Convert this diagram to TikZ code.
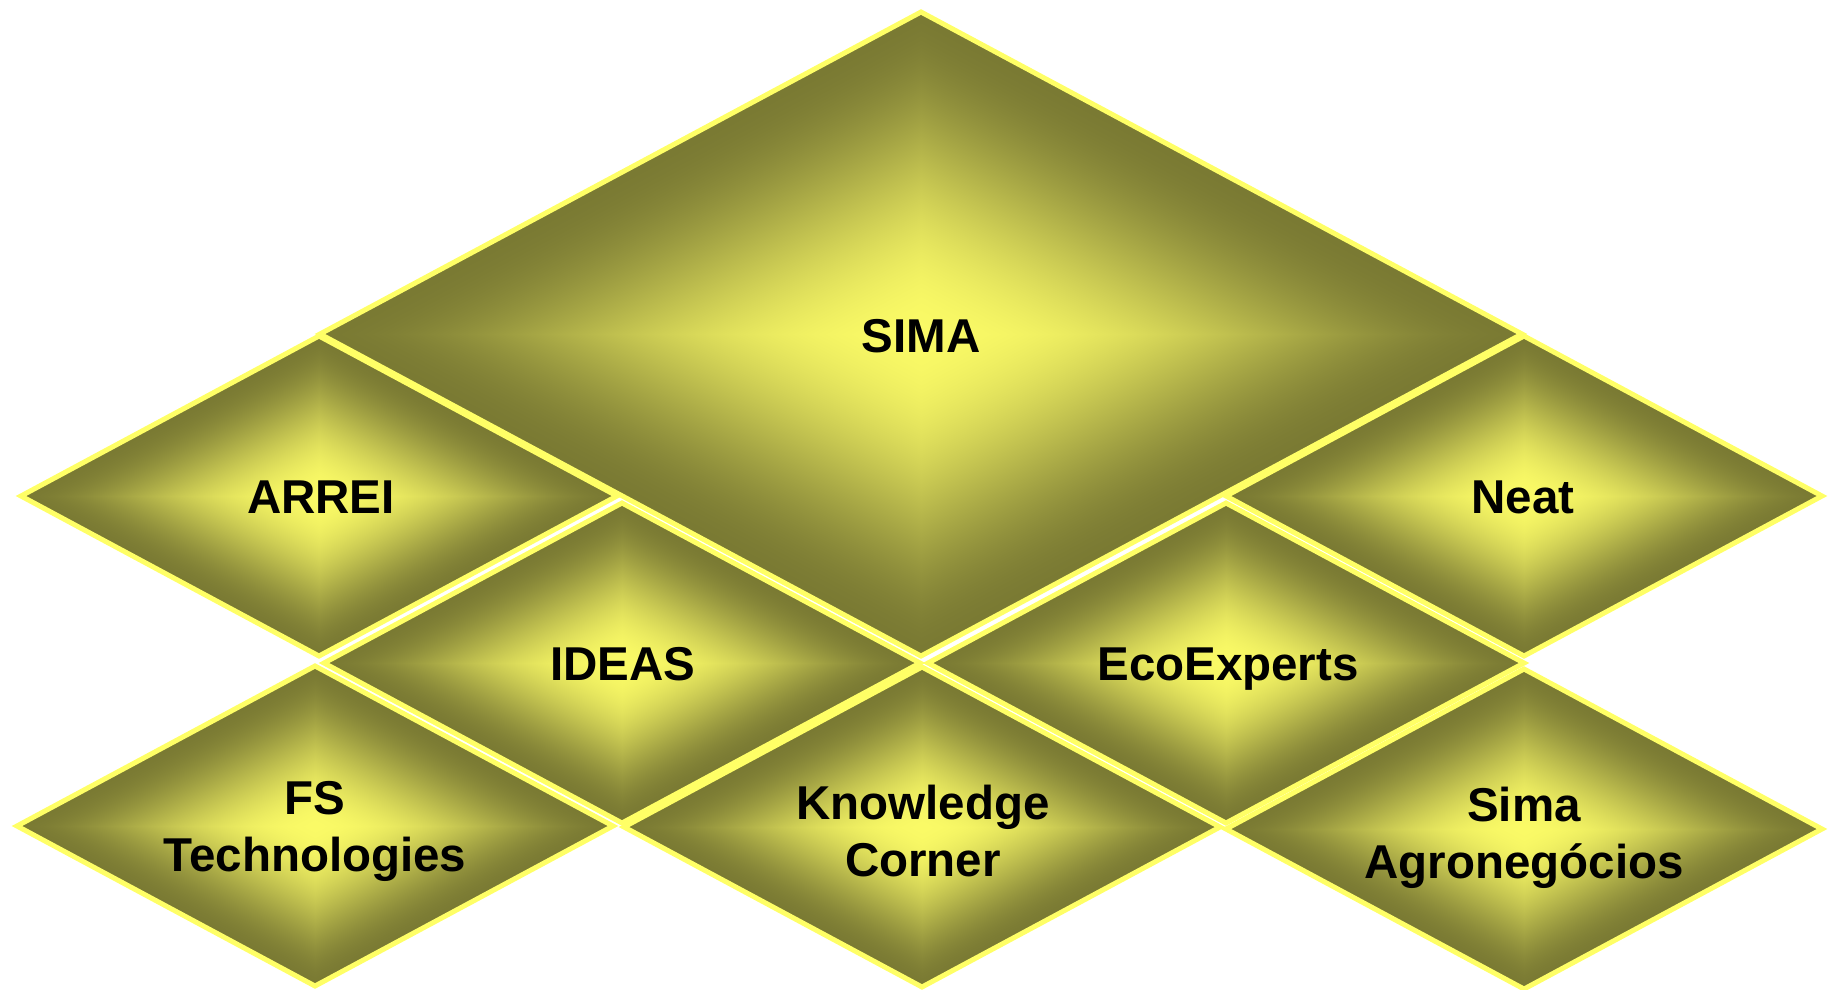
\documentclass[tikz,border=0pt]{standalone}
\usepackage{fontspec}
\setmainfont{Liberation Sans}
\pgfdeclarefunctionalshading{diastar}{\pgfpointorigin}{\pgfpoint{100bp}{100bp}}{}{
50 sub abs 25 div
exch 50 sub abs 25 div
add
dup 1 gt {pop 1} if
dup mul 1 exch sub dup mul
dup 0.502 mul 0.478 add
exch dup 0.502 mul 0.478 add
exch 0.2 mul 0.2 add
}
\definecolor{rim}{HTML}{FFFF66}
\tikzset{
  diastyle/.style={draw=rim, line width=5pt, line join=miter, shade, shading=diastar},
  lbl/.style={font=\bfseries\fontsize{47.5}{56.5}\selectfont, text=black, align=center, inner sep=0pt, anchor=base}
}
\newcommand\mydia[3]{\path[diastyle] (#1) ++(-#2,0) -- ++(#2,-#3) -- ++(#2,#3) -- ++(-#2,#3) -- cycle;}
\begin{document}
\begin{tikzpicture}[x=1pt,y=-1pt]
\useasboundingbox (0,0) rectangle (1831,989);
\coordinate (cSIMA) at (921,334);
\coordinate (cARREI) at (319,496);
\coordinate (cNeat) at (1524,496);
\coordinate (cIDEAS) at (622,663);
\coordinate (cEco) at (1226,663);
\coordinate (cFS) at (315,826);
\coordinate (cKC) at (922,827);
\coordinate (cSA) at (1524,829);
\mydia{cSIMA}{601}{322}
\mydia{cARREI}{298}{160}
\mydia{cNeat}{298}{160}
\mydia{cIDEAS}{298}{160}
\mydia{cEco}{298}{160}
\mydia{cFS}{298}{160}
\mydia{cKC}{298}{160}
\mydia{cSA}{298}{160}
\node[lbl] (sima) at (921,352) {SIMA};
\node[lbl] (arrei) at (321,513) {ARREI};
\node[lbl] (neat) at (1523,513) {Neat};
\node[lbl] (ideas) at (623,680) {IDEAS};
\node[lbl] (eco) at (1228,680) {EcoExperts};
\node[lbl] (fs) at (315,871) {FS\\Technologies};
\node[lbl] (kc) at (923,876) {Knowledge\\Corner};
\node[lbl] (sa) at (1524,878) {Sima\\Agronegócios};
\end{tikzpicture}
\end{document}
